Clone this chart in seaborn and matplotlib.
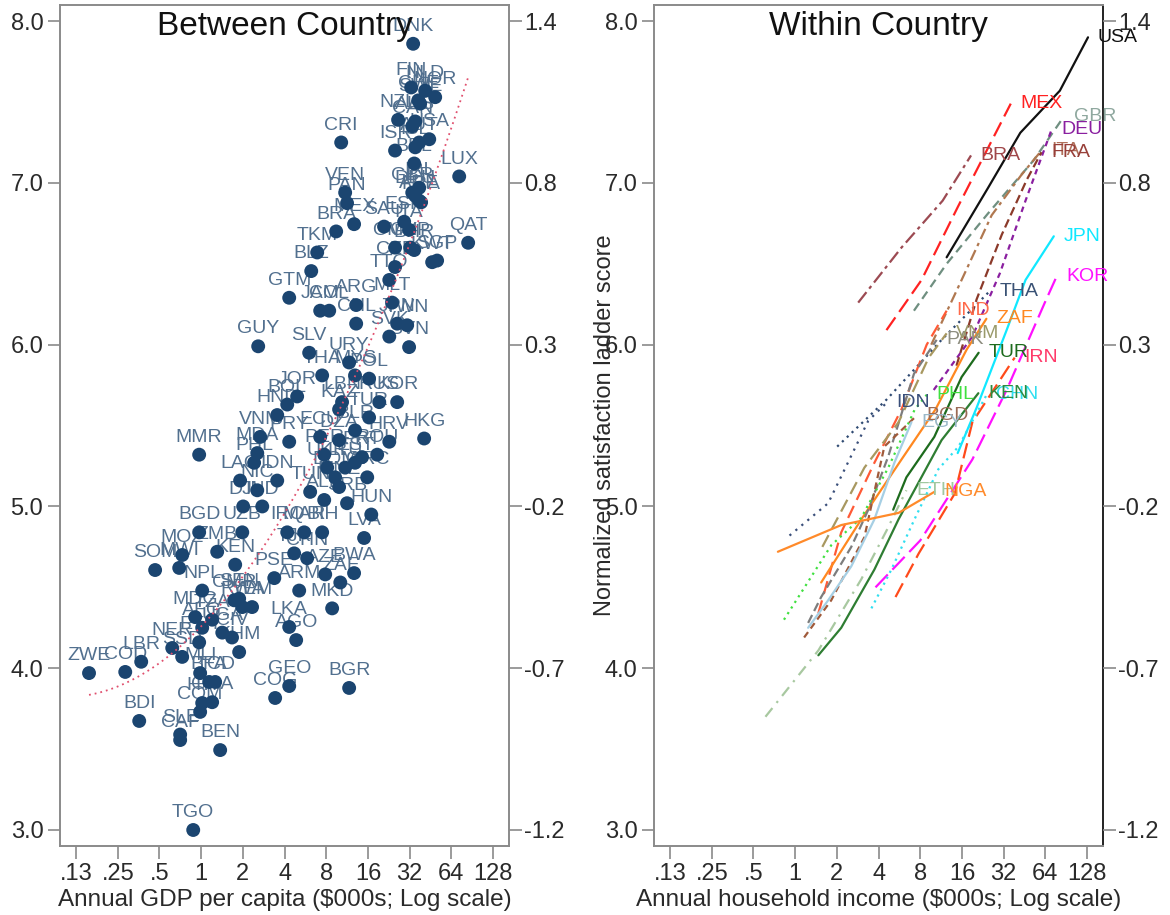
import numpy as np
import pandas as pd
import matplotlib
matplotlib.use("Agg")
import matplotlib.pyplot as plt
import seaborn as sns

# ---------------- data: between-country (GDP per capita $000s, ladder score) ----------------
countries = ["DNK","FIN","NLD","NOR","CHE","SWE","NZL","AUS","CAN","USA","AUT","ISR","ISL","CRI",
             "BEL","LUX","IRL","GBR","ARE","DEU","FRA","VEN","PAN","MEX","BRA","TKM","BLZ","GTM",
             "GUY","SLV","SAU","ESP","ITA","QAT","SGP","KWT","OMN","CYP","BHR","CZE","TTO","JAM",
             "COL","ARG","CHL","MLT","JPN","TWN","URY","SVK","SVN","THA","MYS","POL","JOR","BOL",
             "HND","KAZ","LBN","RUS","KOR","TUR","BLR","HKG","HRV","ECU","DZA","PRY","VNM","MMR",
             "MDA","PHL","LAO","IDN","DJI","IND","PER","UKR","DOM","LTU","EST","PRT","GRC","MNE",
             "ALB","SRB","TUN","ROU","HUN","LVA","MOZ","ZMB","SOM","MWI","KEN","NPL","SEN","ARM",
             "PSE","BWA","ZAF","CHN","BIH","BGD","UZB","IRQ","MAR","TJK","AZE","MKD","LKA","AGO",
             "GEO","COG","BGR","MDG","AFG","TZA","UGA","CIV","KHM","NER","ETH","LBR","COD","ZWE",
             "MLI","SSD","BFA","TCD","HTI","GHA","COM","BDI","SLE","CAF","BEN","TGO","RWA","YEM",
             "CMR","NIC"]
gdp = [33.9,32.8,41.4,48.9,36.9,38.1,26.4,35.1,33.4,44.3,37.5,25.1,35.1,10.25,
       34.5,72.9,37.5,33.4,37.5,35.1,38.7,10.95,11.3,12.7,9.43,6.88,6.23,4.32,
       2.58,6.02,20.9,29.2,31.7,84.6,50.5,46.5,25.1,32.3,34.5,25.1,22.8,7.23,
       8.40,13.15,13.15,23.9,26.0,30.7,11.7,22.8,31.7,7.47,12.9,16.3,4.93,4.18,
       3.54,9.9,10.4,19.3,26.0,16.3,12.9,40.7,22.8,7.23,9.9,4.32,2.67,0.967,
       2.54,2.41,1.91,3.54,2.01,2.76,7.73,8.12,9.27,10.95,12.9,14.5,15.8,9.9,
       7.73,11.3,6.12,18.65,16.9,15.0,0.73,1.305,0.465,0.694,1.76,1.017,1.88,5.1,
       3.37,12.7,10.1,5.82,7.47,0.967,1.98,4.18,5.54,4.69,7.86,8.82,4.32,4.85,
       4.32,3.42,11.7,0.905,1.017,1.2,1.42,1.67,1.88,0.618,0.967,0.369,0.283,0.155,
       0.983,0.729,1.142,1.262,1.017,1.2,0.983,0.357,0.705,0.705,1.371,0.876,1.98,2.33,
       1.73,2.54]
ladder = [7.86,7.59,7.57,7.53,7.51,7.49,7.39,7.38,7.35,7.27,7.25,7.20,7.22,7.25,
          7.12,7.04,6.97,6.94,6.89,6.92,6.88,6.94,6.875,6.745,6.70,6.57,6.455,6.29,
          5.99,5.95,6.73,6.76,6.71,6.63,6.52,6.51,6.60,6.60,6.585,6.48,6.40,6.21,
          6.21,6.245,6.13,6.26,6.13,6.12,5.89,6.05,5.985,5.81,5.81,5.79,5.68,5.63,
          5.565,5.60,5.645,5.645,5.645,5.55,5.47,5.42,5.40,5.43,5.41,5.40,5.43,5.32,
          5.33,5.27,5.16,5.16,5.00,5.00,5.32,5.24,5.18,5.24,5.27,5.305,5.18,5.12,
          5.04,5.02,5.09,5.32,4.95,4.805,4.70,4.72,4.607,4.62,4.64,4.48,4.43,4.48,
          4.557,4.588,4.53,4.68,4.84,4.84,4.84,4.84,4.84,4.71,4.58,4.37,4.255,4.174,
          3.89,3.816,3.878,4.316,4.25,4.30,4.22,4.19,4.10,4.125,4.16,4.04,3.977,3.97,
          3.97,4.07,3.915,3.915,3.785,3.79,3.73,3.674,3.59,3.556,3.494,3.00,4.378,4.378,
          4.42,5.10]

# ---------------- data: within-country (household income $000s, ladder score) ----------------
within = {
    "USA": ([12.4, 24.7, 42.2, 81.4, 130], [6.54, 6.97, 7.31, 7.57, 7.90]),
    "MEX": ([4.56, 8.17, 14.9, 26.2, 36], [6.09, 6.40, 6.85, 7.26, 7.49]),
    "GBR": ([7.2, 12.4, 24.6, 52.7, 87], [6.21, 6.50, 6.81, 7.14, 7.41]),
    "DEU": ([10, 19, 30, 46, 71], [5.72, 6.05, 6.44, 6.89, 7.33]),
    "BRA": ([2.85, 5.85, 11.6, 18.6], [6.26, 6.60, 6.89, 7.17]),
    "ITA": ([9.6, 15.9, 26.2, 43, 60], [6.00, 6.40, 6.80, 7.05, 7.20]),
    "FRA": ([14.6, 20.4, 31, 47, 60], [5.87, 6.28, 6.68, 7.02, 7.19]),
    "JPN": ([14.9, 20.4, 33.6, 46, 73.6], [5.33, 5.61, 6.09, 6.40, 6.67]),
    "THA": ([2.01, 4.56, 11.4, 25.3], [5.37, 5.66, 6.03, 6.33]),
    "KOR": ([3.8, 8.0, 19, 33.6, 63.4, 77], [4.50, 4.79, 5.29, 5.72, 6.26, 6.42]),
    "IND": ([1.47, 2.15, 3.73, 5.85, 8.9, 12.4], [4.34, 4.84, 5.27, 5.60, 6.00, 6.21]),
    "ZAF": ([1.54, 3.0, 5.85, 10.3, 17.3, 24], [4.53, 4.92, 5.29, 5.60, 5.97, 6.16]),
    "PAK": ([1.24, 1.54, 2.54, 3.37, 4.7, 7.2, 10.5], [4.28, 4.44, 4.75, 4.98, 5.31, 5.82, 6.03]),
    "VNM": ([1.57, 3.16, 5.57, 9.2, 12.4], [4.75, 5.24, 5.52, 5.92, 6.07]),
    "TUR": ([5.1, 6.35, 10.1, 15.9, 21.1], [4.98, 5.18, 5.43, 5.80, 5.95]),
    "IRN": ([5.3, 7.8, 14.2, 19, 38.4], [4.44, 4.71, 5.08, 5.52, 5.92]),
    "CHN": ([3.55, 4.95, 7.26, 10.8, 15.1, 24.1], [4.37, 4.61, 4.92, 5.23, 5.37, 5.69]),
    "KEN": ([1.47, 2.15, 3.73, 5.57, 11.4, 21], [4.08, 4.25, 4.61, 4.92, 5.41, 5.70]),
    "IDN": ([0.91, 1.73, 3.37, 4.56], [4.82, 5.02, 5.53, 5.64]),
    "PHL": ([0.83, 1.82, 3.0, 4.7, 7.3, 8.9], [4.30, 4.76, 4.93, 5.24, 5.60, 5.69]),
    "BGD": ([1.16, 1.82, 3.16, 4.4, 7.5], [4.19, 4.42, 4.81, 5.37, 5.56]),
    "EGY": ([1.24, 1.73, 2.54, 3.73, 5.2, 6.9], [4.25, 4.42, 4.63, 4.92, 5.27, 5.52]),
    "ETH": ([0.61, 1.47, 3.0, 4.56, 6.35], [3.70, 4.11, 4.55, 4.85, 5.10]),
    "NGA": ([0.75, 2.15, 5.57, 10.1], [4.72, 4.885, 4.96, 5.09]),
}

x_ticks = [0.125, 0.25, 0.5, 1, 2, 4, 8, 16, 32, 64, 128]
x_ticklabels = [".13", ".25", ".5", "1", "2", "4", "8", "16", "32", "64", "128"]
y_ticks = [8, 7, 6, 5, 4, 3]
y_ticklabels = ["8.0", "7.0", "6.0", "5.0", "4.0", "3.0"]
norm_ticklabels = ["1.4", "0.8", "0.3", "-0.2", "-0.7", "-1.2"]

# ---------------- styles ----------------
line_color = {
    "USA": "#111111", "MEX": "#ff2222", "GBR": "#6f8f80", "DEU": "#8a1fa0", "BRA": "#9c4a52",
    "ITA": "#b07850", "FRA": "#8b3a2a", "JPN": "#10e8ff", "THA": "#2f4a72", "KOR": "#ff10ff",
    "IND": "#ff5a36", "ZAF": "#ff8820", "PAK": "#7d7d7d", "VNM": "#a89860", "TUR": "#1d6b1d",
    "IRN": "#ff4a1a", "CHN": "#30dff0", "KEN": "#2e7d32", "IDN": "#3a4f7a", "PHL": "#40e040",
    "BGD": "#a05a3a", "EGY": "#a6cfe4", "ETH": "#a8c8a0", "NGA": "#ff8a2a",
}
label_color = dict(line_color)
label_color.update({"GBR": "#8fa89f", "BRA": "#a0474a", "ITA": "#b0705a", "FRA": "#98403a",
                    "THA": "#3a5275", "IND": "#ff6a4a", "PAK": "#8e8e80", "VNM": "#9a9a6a",
                    "IRN": "#ff3a6a", "BGD": "#9a6a55", "EGY": "#9ab8c8", "ETH": "#a0c8a0",
                    "KEN": "#2e8b3e"})
line_dash = {
    "USA": "", "MEX": (7, 3), "GBR": (4, 2.5), "DEU": (2.5, 2), "BRA": (6, 2, 1.5, 2),
    "ITA": (5, 2, 1.5, 2), "FRA": (4, 2), "JPN": "", "THA": (1, 2), "KOR": (8, 3),
    "IND": (6, 3), "ZAF": "", "PAK": (4, 2), "VNM": (6, 3), "TUR": "", "IRN": (7, 3),
    "CHN": (1, 2), "KEN": "", "IDN": (1, 2.5), "PHL": (1, 2), "BGD": (3, 2),
    "EGY": "", "ETH": (5, 3, 1, 3), "NGA": "",
}

# ---------------- figure ----------------
sns.set_theme(style="white")
plt.rcParams["font.family"] = ["Liberation Sans", "DejaVu Sans"]

fig = plt.figure(figsize=(11.7, 9.15), dpi=100)
axL = fig.add_axes([0.0513, 0.0754, 0.3838, 0.919])
axR = fig.add_axes([0.559, 0.0754, 0.3838, 0.919])

XLIM = (0.0957, 167)
YLIM = (2.901, 8.099)
tick_col = "#8a8a8a"
text_col = "#2a2a2a"

for ax in (axL, axR):
    ax.set_xscale("log", base=2)

# ---- left panel ----
df_b = pd.DataFrame({"country": countries, "gdp": gdp, "ladder": ladder})
for c, xg, yl in zip(countries, gdp, ladder):
    axL.annotate(c, (xg, yl), xytext=(0, 12.5), textcoords="offset points",
                 ha="center", va="center", fontsize=14, color="#52708f", zorder=2)
sns.scatterplot(data=df_b, x="gdp", y="ladder", ax=axL, s=100, color="#1b4570",
                edgecolor="none", linewidth=0, zorder=3, legend=False)
lg = np.log2(df_b["gdp"].values)
coef = np.polyfit(lg, df_b["ladder"].values, 2)
xs = np.linspace(lg.min(), lg.max(), 200)
axL.plot(2 ** xs, np.polyval(coef, xs), linestyle=(0, (1, 2.2)), color="#e0506e",
         linewidth=1.3, zorder=4)
axL.text(0.5, 0.993, "Between Country", transform=axL.transAxes, ha="center", va="top",
         fontsize=24, color="#111111", zorder=5)
axL.set_xlabel("Annual GDP per capita ($000s; Log scale)", fontsize=17.5, color=text_col, labelpad=3)
axL.set_ylabel("")

# ---- right panel ----
rows = []
for c, (inc, sc) in within.items():
    for i, (a, b) in enumerate(zip(inc, sc)):
        rows.append({"country": c, "income": a, "score": b, "order": i})
df_w = pd.DataFrame(rows)
sns.lineplot(data=df_w, x="income", y="score", hue="country", style="country",
             palette=line_color, dashes=line_dash, sort=False, estimator=None,
             linewidth=1.6, legend=False, ax=axR)
for c, (inc, sc) in within.items():
    axR.annotate(c, (inc[-1], sc[-1]), xytext=(7, 0), textcoords="offset points",
                 ha="left", va="center", fontsize=14, color=label_color[c])
axR.text(0.5, 0.993, "Within Country", transform=axR.transAxes, ha="center", va="top",
         fontsize=24, color="#111111")
axR.set_xlabel("Annual household income ($000s; Log scale)", fontsize=17.5, color=text_col, labelpad=3)
axR.set_ylabel("Normalized satisfaction ladder score", fontsize=17, color=text_col)
axR.yaxis.set_label_coords(-0.085, 0.5)

for ax in (axL, axR):
    ax.set_xlim(*XLIM)
    ax.set_ylim(*YLIM)
    ax.set_xticks(x_ticks)
    ax.set_xticklabels(x_ticklabels)
    ax.xaxis.set_minor_locator(matplotlib.ticker.NullLocator())
    ax.set_yticks(y_ticks)
    ax.set_yticklabels(y_ticklabels)
    ax.tick_params(axis="both", which="major", direction="out", length=9, width=1.2,
                   color=tick_col, labelsize=17, labelcolor=text_col, pad=3,
                   left=True, bottom=True)
    ax.grid(False)
    for s in ax.spines.values():
        s.set_color("#8a8a8a")
        s.set_linewidth(1.4)
    tw = ax.twinx()
    tw.set_ylim(*YLIM)
    tw.set_yticks(y_ticks)
    tw.set_yticklabels(norm_ticklabels)
    tw.tick_params(axis="y", direction="out", length=9, width=1.2, color=tick_col,
                   labelsize=17, labelcolor=text_col, pad=2, right=True)
    tw.grid(False)
    for s in tw.spines.values():
        s.set_visible(False)

axR.spines["right"].set_color("#222222")

fig.savefig("out.png", dpi=100, facecolor="white")
